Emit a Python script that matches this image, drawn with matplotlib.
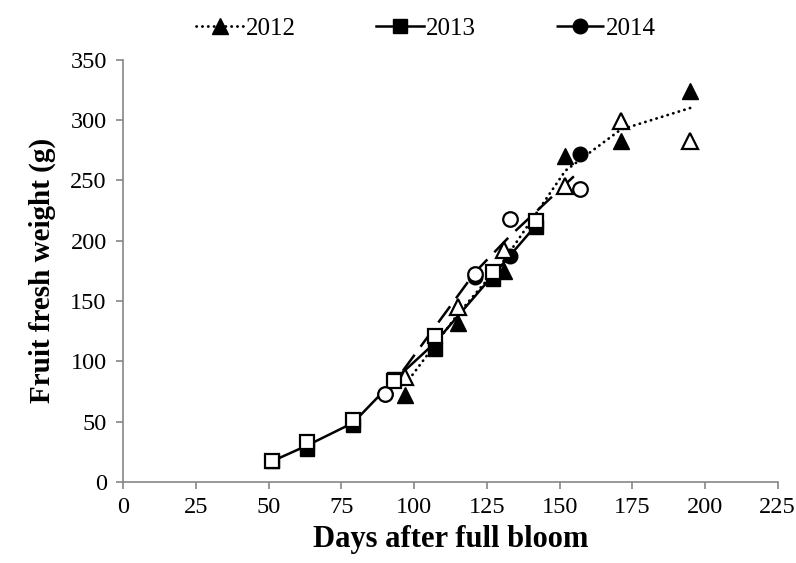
import numpy as np
import matplotlib
matplotlib.use("Agg")
from matplotlib import pyplot as plt

plt.rcParams['font.family'] = ['Liberation Serif', 'DejaVu Serif']

# 2012 season
days_2012 = [97, 115, 131, 152, 171, 195]
filled_2012 = [72, 132, 175, 270, 283, 324]
open_2012 = [87, 145, 192, 245, 299, 283]
line_2012 = [81, 139, 184, 258, 292, 310]

# 2013 season
days_2013 = [51, 63, 79, 93, 107, 127, 142]
filled_2013 = [17, 27, 47, 85, 110, 168, 211]
open_2013 = [17, 33, 51, 84, 121, 174, 216]
line_2013 = [17, 30, 49, 84, 115, 171, 213]

# 2014 season
days_2014 = [90, 121, 133, 157]
filled_2014 = [73, 170, 187, 272]
open_2014 = [73, 172, 218, 243]
line_2014 = [72, 174, 204, 258]

fig = plt.figure(figsize=(7.96, 5.63), dpi=100)
ax = fig.add_axes([0.155, 0.144, 0.822, 0.750])

gray = "#868686"
lw = 1.8
ms = 10.5
mew = 1.6

# lines with filled markers
ax.plot(days_2012, line_2012, color="black", lw=2.0,
        linestyle=(0, (0.1, 2.0)), dash_capstyle="round", zorder=2)
ax.plot(days_2012, filled_2012, linestyle="none", marker="^", ms=ms + 1,
        color="black", zorder=3)
ax.plot(days_2013, line_2013, color="black", lw=lw, zorder=2)
ax.plot(days_2013, filled_2013, linestyle="none", marker="s", ms=ms - 1,
        color="black", zorder=3)
ax.plot(days_2014, line_2014, color="black", lw=lw,
        linestyle=(0, (8, 4)), zorder=2)
ax.plot(days_2014, filled_2014, linestyle="none", marker="o", ms=ms,
        color="black", zorder=3)

# open markers on top
ax.plot(days_2012, open_2012, linestyle="none", marker="^", ms=ms + 1,
        mfc="white", mec="black", mew=mew, zorder=4)
ax.plot(days_2013, open_2013, linestyle="none", marker="s", ms=ms - 1,
        mfc="white", mec="black", mew=mew, zorder=4)
ax.plot(days_2014, open_2014, linestyle="none", marker="o", ms=ms,
        mfc="white", mec="black", mew=mew, zorder=4)

# legend handles: line + filled marker
h12, = ax.plot([], [], color="black", lw=2.0, linestyle=(0, (0.1, 2.0)),
               dash_capstyle="round", marker="^", ms=ms + 1)
h13, = ax.plot([], [], color="black", lw=lw, marker="s", ms=ms - 1)
h14, = ax.plot([], [], color="black", lw=lw, linestyle=(0, (8, 4)),
               marker="o", ms=ms)
ax.legend([h12, h13, h14], ["2012", "2013", "2014"], loc="lower center",
          bbox_to_anchor=(0.463, 1.0), ncol=3, frameon=False, fontsize=18,
          handlelength=1.9, handletextpad=0.1, columnspacing=3.2,
          borderaxespad=0.4)

ax.set_xlim(0, 225)
ax.set_ylim(0, 350)
ax.set_xticks(np.arange(0, 226, 25))
ax.set_yticks(np.arange(0, 351, 50))

for side in ["top", "right"]:
    ax.spines[side].set_visible(False)
for side in ["left", "bottom"]:
    ax.spines[side].set_color(gray)
    ax.spines[side].set_linewidth(1.2)
ax.tick_params(axis="both", direction="out", color=gray, width=1.2,
               length=5, labelsize=17.5)
ax.tick_params(axis="x", pad=6)
ax.tick_params(axis="y", pad=7)

ax.set_xlabel("Days after full bloom", fontsize=22, fontweight="bold",
              labelpad=5)
ax.set_ylabel("Fruit fresh weight (g)", fontsize=21, fontweight="bold",
              labelpad=10)

fig.savefig("out.png", dpi=100)
